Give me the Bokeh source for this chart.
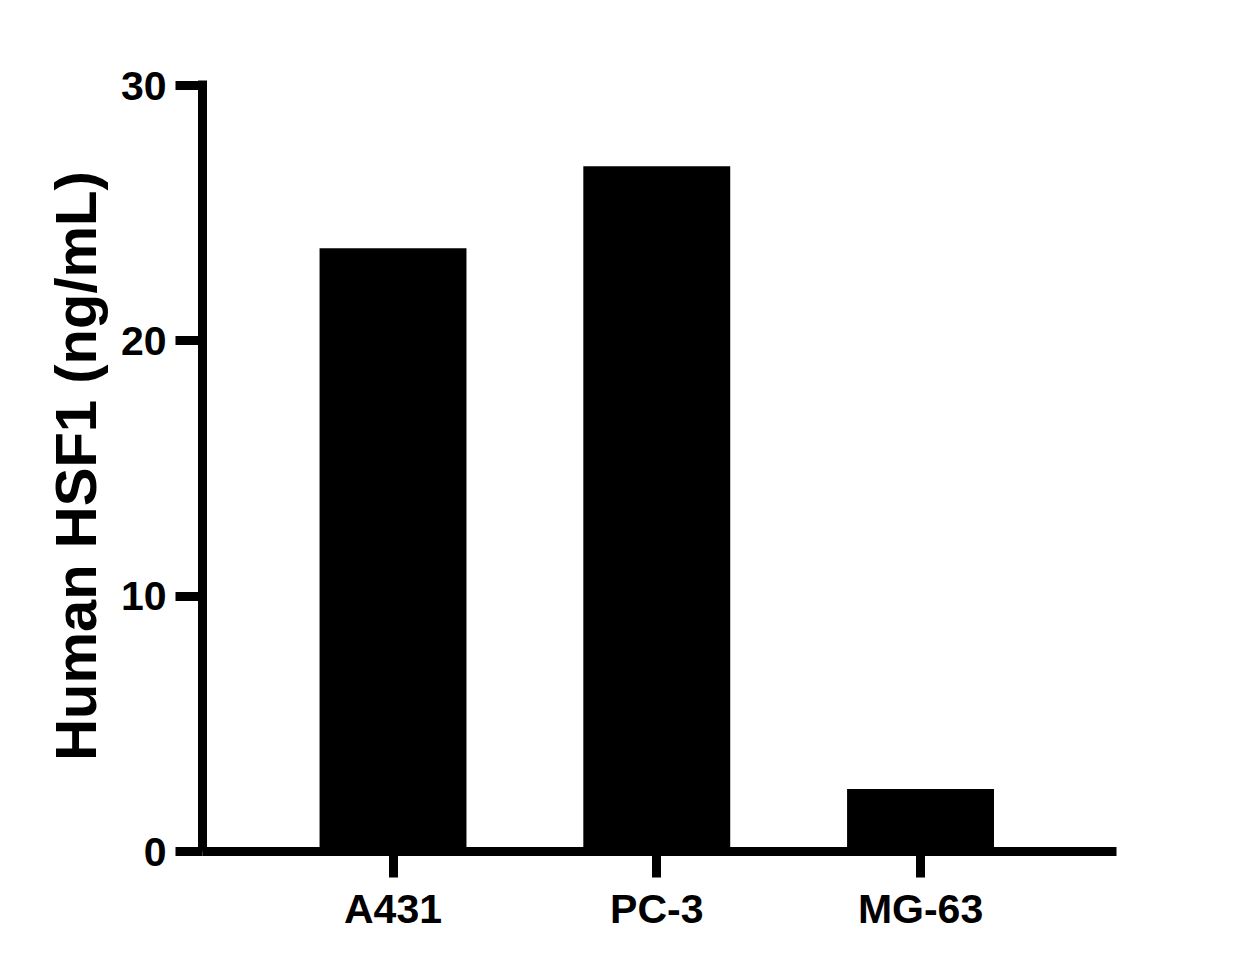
from bokeh.plotting import figure
from bokeh.models import Range1d, FixedTicker, ColumnDataSource
from bokeh.embed import file_html
from bokeh.resources import INLINE

categories = ["A431", "PC-3", "MG-63"]
values = [23.63, 26.84, 2.45]
y_ticks = [0, 10, 20, 30]

positions = list(range(len(categories)))
source = ColumnDataSource(dict(x=positions, top=values))

W, H = 1242, 964
p = figure(width=W, height=H, output_backend="svg", toolbar_location=None,
           x_range=Range1d(-0.7223, 2.743), y_range=Range1d(0, 30.2),
           min_border_left=202, min_border_right=W - 1116,
           min_border_top=80, min_border_bottom=H - 851)
p.outline_line_color = None
p.xgrid.grid_line_color = None
p.ygrid.grid_line_color = None
p.background_fill_color = "white"
p.border_fill_color = "white"

p.vbar(x="x", top="top", bottom=0, width=0.557, source=source,
       fill_color="black", line_color=None)

font = "Liberation Sans"
for ax in (p.xaxis[0], p.yaxis[0]):
    ax.axis_line_width = 9
    ax.axis_line_color = "black"
    ax.major_tick_line_width = 9
    ax.major_tick_line_color = "black"
    ax.major_tick_in = 0
    ax.minor_tick_line_color = None
    ax.major_label_text_font = font
    ax.major_label_text_font_style = "bold"
    ax.major_label_text_font_size = "41px"
    ax.major_label_text_color = "black"

p.xaxis.ticker = FixedTicker(ticks=positions)
p.xaxis.major_label_overrides = {i: c for i, c in zip(positions, categories)}
p.xaxis.major_tick_out = 26
p.xaxis.major_label_standoff = 8

p.yaxis.ticker = FixedTicker(ticks=y_ticks)
p.yaxis.major_tick_out = 27
p.yaxis.major_label_standoff = 9
p.yaxis.axis_label = "Human HSF1 (ng/mL)"
p.yaxis.axis_label_text_font = font
p.yaxis.axis_label_text_font_style = "bold"
p.yaxis.axis_label_text_font_size = "58px"
p.yaxis.axis_label_text_color = "black"
p.yaxis.axis_label_standoff = 10

open("out.html", "w").write(file_html(p, INLINE))
